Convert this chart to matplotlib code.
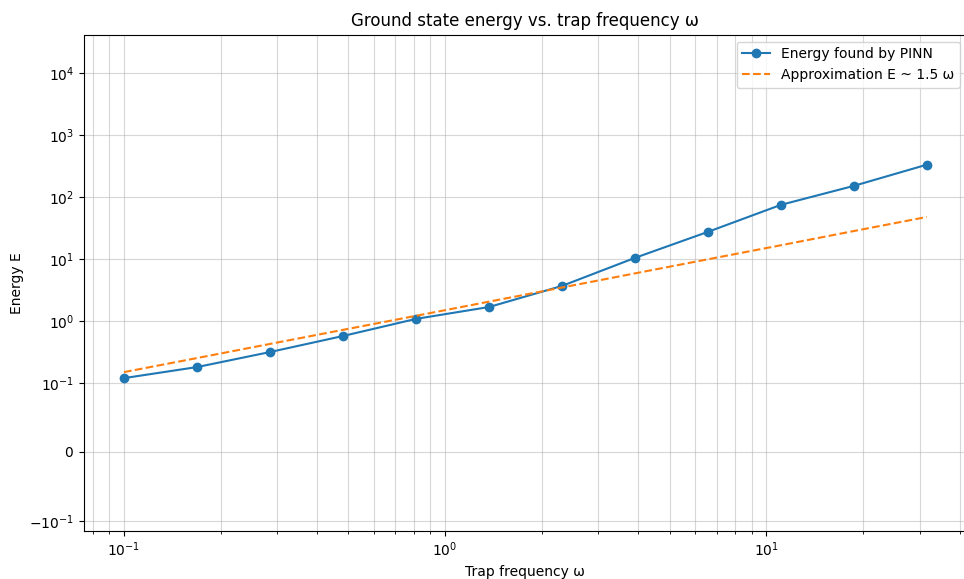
import matplotlib
matplotlib.use("Agg")
import matplotlib.pyplot as plt
import matplotlib.ticker as mticker

# trap frequencies (omega) and energies
omega = [0.1, 0.169, 0.285, 0.481, 0.811, 1.37, 2.31, 3.9, 6.58, 11.1, 18.7, 31.6]
energy_pinn = [0.12, 0.181, 0.316, 0.573, 1.08, 1.68, 3.67, 10.4, 27.3, 74.3, 150, 330]
# approximation E ~ 1.5 omega
energy_approx = [0.15, 0.253, 0.427, 0.72, 1.21, 2.05, 3.46, 5.85, 9.87, 16.6, 28.1, 47.4]

fig, ax = plt.subplots(figsize=(9.64, 5.79), dpi=100)
# axes runs slightly past the right edge of the image, as in the original
fig.subplots_adjust(left=0.087, right=1.003, bottom=0.083, top=0.940)

ax.plot(omega, energy_pinn, marker='o', label='Energy found by PINN')
ax.plot(omega, energy_approx, linestyle='--', label='Approximation E ~ 1.5 ω')

ax.set_xscale('log')
ax.set_yscale('symlog', linthresh=0.1)
ax.set_ylim(-0.145, 4.1e4)
ax.yaxis.set_minor_locator(mticker.NullLocator())

ax.set_xlabel('Trap frequency ω')
ax.set_ylabel('Energy E')
ax.set_title('Ground state energy vs. trap frequency ω')
ax.grid(True, which='both', alpha=0.5)
ax.legend()

plt.savefig('out.png')
